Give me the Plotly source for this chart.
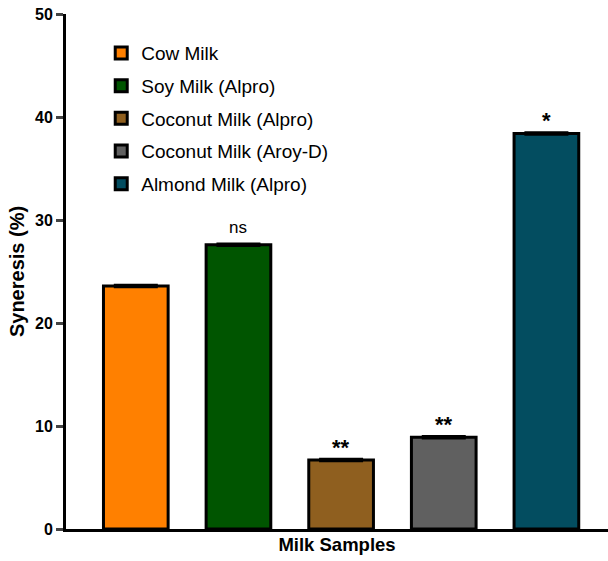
import plotly.graph_objects as go

categories = ["Cow Milk", "Soy Milk (Alpro)", "Coconut Milk (Alpro)", "Coconut Milk (Aroy-D)", "Almond Milk (Alpro)"]
values = [23.6, 27.6, 6.7, 8.9, 38.4]
errors = [0.1, 0.1, 0.1, 0.1, 0.1]
significance = ["", "ns", "**", "**", "*"]
colors = ["#FF8000", "#005500", "#8F5F1F", "#606060", "#034D60"]
y_ticks = [0, 10, 20, 30, 40, 50]

FONT = "Liberation Sans, Arial"
fig = go.Figure()
for i, (cat, v, e, c) in enumerate(zip(categories, values, errors, colors)):
    fig.add_trace(go.Bar(
        x=[i], y=[v], name=cat, width=0.63,
        marker=dict(color=c, line=dict(color="black", width=3)),
        error_y=dict(type="data", array=[e], color="black", thickness=2.5, width=22, visible=True),
        legendgroup=cat,
    ))
    if significance[i]:
        star = significance[i] != "ns"
        fig.add_annotation(
            x=i, y=v, yref="y", xref="x",
            text=f"<b>{significance[i]}</b>" if star else significance[i],
            showarrow=False, yanchor="bottom", yshift=-2 if star else 6,
            font=dict(family=FONT, size=22 if star else 17, color="black"),
        )

fig.update_layout(
    width=608, height=561,
    margin=dict(l=66, r=0, t=14, b=32),
    plot_bgcolor="white", paper_bgcolor="white",
    barmode="overlay",
    font=dict(family=FONT, size=18, color="black"),
    legend=dict(x=0.065, y=0.961, xanchor="left", yanchor="top",
                font=dict(size=19), tracegroupgap=5, bgcolor="rgba(0,0,0,0)"),
    xaxis=dict(range=[-0.68, 4.6], showticklabels=False, ticks="", showgrid=False,
               showline=True, linecolor="black", linewidth=3, zeroline=False,
               automargin=False,
               title=dict(text="<b>Milk Samples</b>", font=dict(size=18.5), standoff=8)),
    yaxis=dict(range=[0, 50], tickvals=y_ticks, ticktext=[f"<b>{t}</b>" for t in y_ticks],
               ticks="outside", ticklen=7, tickwidth=3, showgrid=False,
               showline=True, linecolor="black", linewidth=3, zeroline=False,
               tickfont=dict(size=16), automargin=False,
               title=dict(text="<b>Syneresis (%)</b>", font=dict(size=20), standoff=6)),
)

# remove the browser's default 8px body margin so the figure fills the window exactly
fig.write_html("out.html", config={"displayModeBar": False},
               post_script="document.body.style.margin='0';")
